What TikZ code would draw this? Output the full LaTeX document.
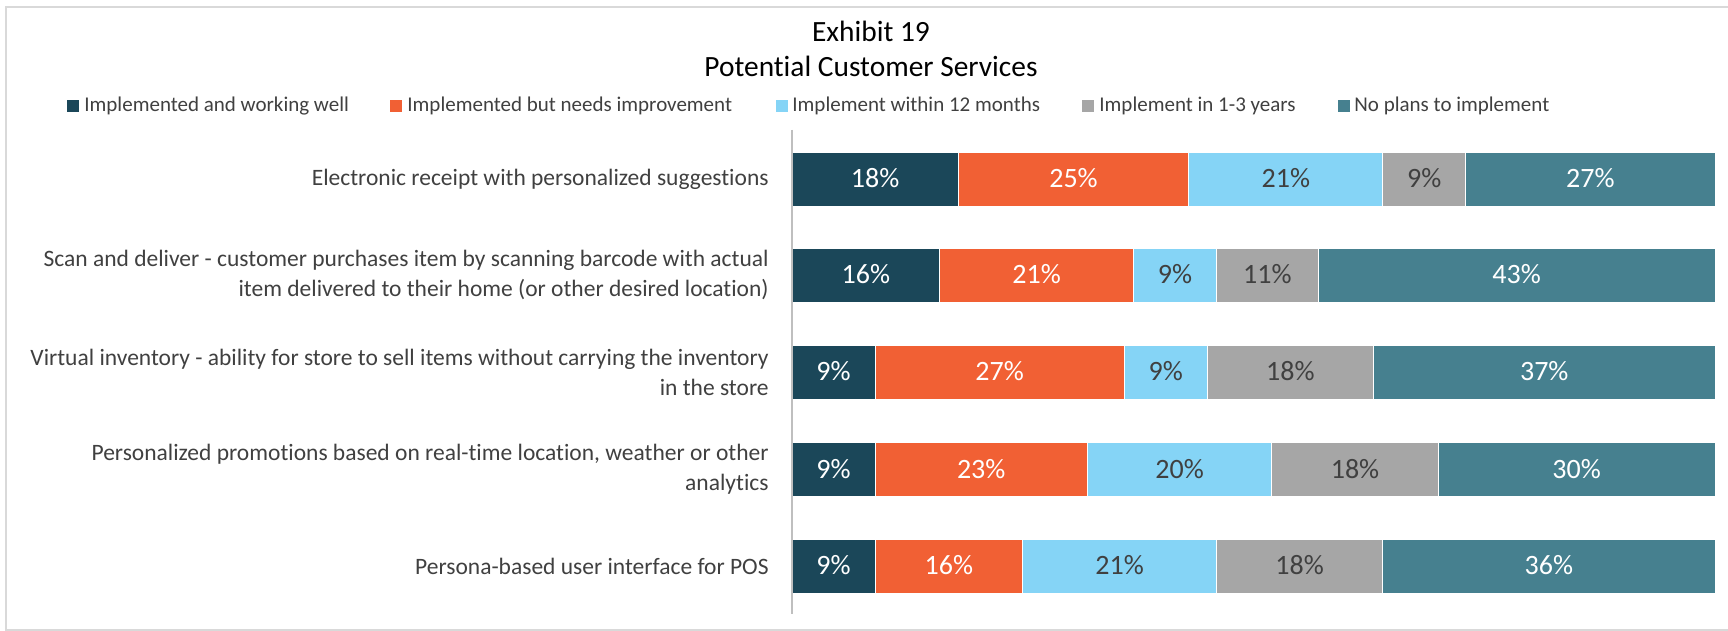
\documentclass[tikz,border=0pt]{standalone}
\usepackage{fontspec}
\setmainfont{Carlito}[Ligatures={NoCommon}]
\definecolor{cA}{RGB}{27,71,89}
\definecolor{cB}{RGB}{241,96,52}
\definecolor{cC}{RGB}{133,212,246}
\definecolor{cD}{RGB}{166,166,166}
\definecolor{cE}{RGB}{70,128,143}
\definecolor{txtgray}{RGB}{64,64,64}
\definecolor{framegray}{RGB}{217,217,217}
\definecolor{axisgray}{RGB}{191,191,191}
\tikzset{
  titletext/.style={font=\fontsize{14.7pt}{17pt}\selectfont, text=black, inner sep=0pt, anchor=base},
  legendtext/.style={font=\fontsize{10.5pt}{12pt}\selectfont, text=txtgray, inner sep=0pt, anchor=base west},
  legendbox/.style={inner sep=0pt, minimum size=6pt, anchor=center},
  cattext/.style={font=\fontsize{11.75pt}{15pt}\selectfont, text=txtgray, inner sep=0pt, anchor=east, align=right},
  barlabel/.style={font=\fontsize{14pt}{16pt}\selectfont, inner sep=0pt, anchor=base},
  segment/.style={draw=white, line width=0.5pt},
}
\newcommand\chartrow[7]{%
  \pgfmathsetmacro\xa{792}%
  \pgfmathsetmacro\xb{\xa+9.23*#3}%
  \pgfmathsetmacro\xc{\xb+9.23*#4}%
  \pgfmathsetmacro\xd{\xc+9.23*#5}%
  \pgfmathsetmacro\xe{\xd+9.23*#6}%
  \pgfmathsetmacro\xf{1715}%
  \path[segment, fill=cA] (\xa,#2-27) rectangle (\xb,#2+27);
  \path[segment, fill=cB] (\xb,#2-27) rectangle (\xc,#2+27);
  \path[segment, fill=cC] (\xc,#2-27) rectangle (\xd,#2+27);
  \path[segment, fill=cD] (\xd,#2-27) rectangle (\xe,#2+27);
  \path[segment, fill=cE] (\xe,#2-27) rectangle (\xf,#2+27);
  \node[barlabel, text=white]   (#1a) at ({(\xa+\xb)/2},#2+8.8) {#3\%};
  \node[barlabel, text=white]   (#1b) at ({(\xb+\xc)/2},#2+8.8) {#4\%};
  \node[barlabel, text=txtgray] (#1c) at ({(\xc+\xd)/2},#2+8.8) {#5\%};
  \node[barlabel, text=txtgray] (#1d) at ({(\xd+\xe)/2},#2+8.8) {#6\%};
  \node[barlabel, text=white]   (#1e) at ({(\xe+\xf)/2},#2+8.8) {#7\%};
}
\begin{document}
\begin{tikzpicture}[x=0.5pt,y=-0.5pt]
\useasboundingbox (0,0) rectangle (1728,631);
\fill[white] (0,0) rectangle (1728,631);
% frame
\draw[framegray, line width=1pt] (6,640) -- (6,7) -- (1740,7);
\draw[framegray, line width=1pt] (6,630) -- (1740,630);
% title
\node[titletext] (t1) at (871,41.5) {Exhibit 19};
\node[titletext] (t2) at (871,76) {Potential Customer Services};
% legend
\node[legendbox, fill=cA] (l1) at (73,106.5) {};
\node[legendtext] (lt1) at (84,112) {Implemented and working well};
\node[legendbox, fill=cB] (l2) at (396,106.5) {};
\node[legendtext] (lt2) at (407,112) {Implemented but needs improvement};
\node[legendbox, fill=cC] (l3) at (782,106.5) {};
\node[legendtext] (lt3) at (792,112) {Implement within 12 months};
\node[legendbox, fill=cD] (l4) at (1088,106.5) {};
\node[legendtext] (lt4) at (1099,112) {Implement in 1-3 years};
\node[legendbox, fill=cE] (l5) at (1344,106.5) {};
\node[legendtext] (lt5) at (1354,112) {No plans to implement};
% bars
\chartrow{r1}{179}{18}{25}{21}{9}{27}
\chartrow{r2}{275}{16}{21}{9}{11}{43}
\chartrow{r3}{372}{9}{27}{9}{18}{37}
\chartrow{r4}{469.5}{9}{23}{20}{18}{30}
\chartrow{r5}{566}{9}{16}{21}{18}{36}
% axis
\draw[axisgray, line width=0.8pt] (792,130) coordinate (ax1) -- (792,614) coordinate (ax2);
% category labels
\node[cattext] (c1) at (769,179) {Electronic receipt with personalized suggestions};
\node[cattext] (c2) at (769,275) {Scan and deliver - customer purchases item by scanning barcode with actual\\item delivered to their home (or other desired location)};
\node[cattext] (c3) at (769,372) {Virtual inventory - ability for store to sell items without carrying the inventory\\in the store};
\node[cattext] (c4) at (769,469.5) {Personalized promotions based on real-time location, weather or other\\analytics};
\node[cattext] (c5) at (769,566) {Persona-based user interface for POS};
\end{tikzpicture}
\end{document}
